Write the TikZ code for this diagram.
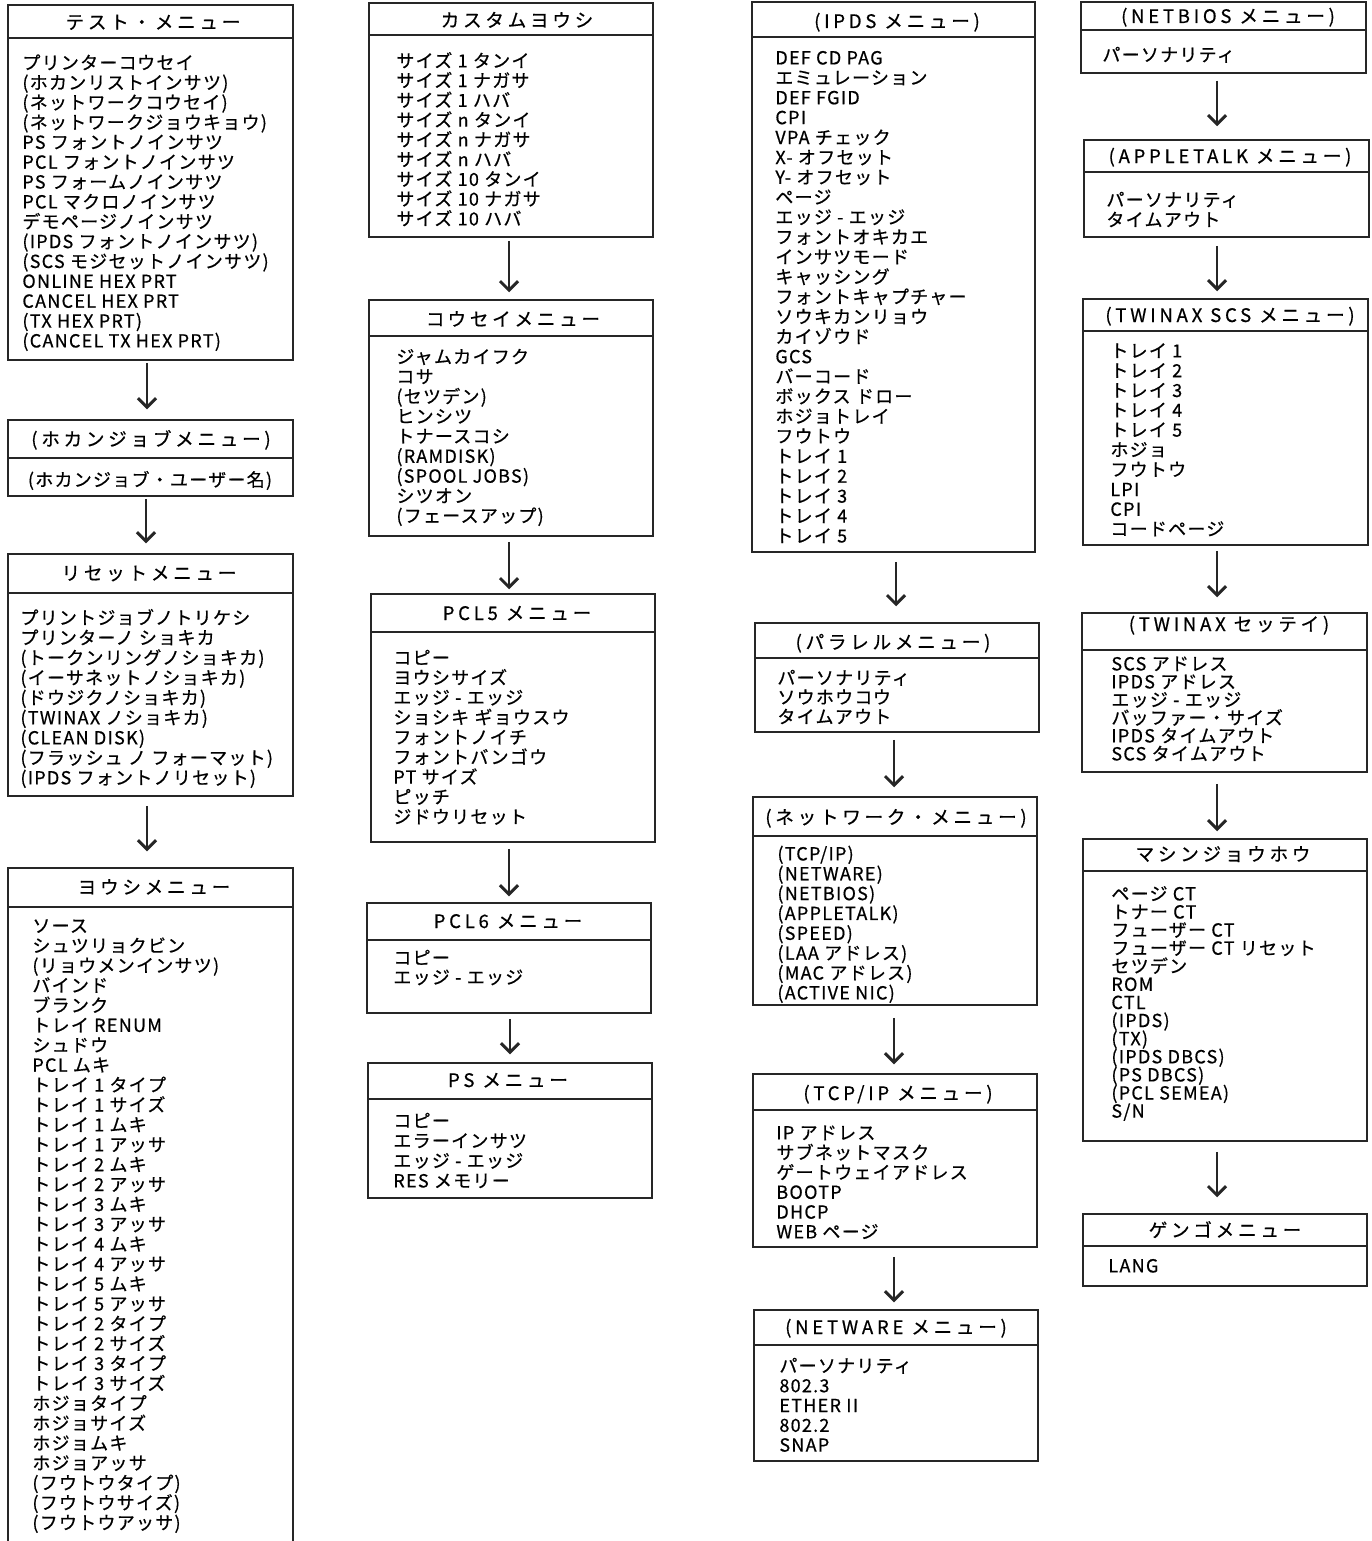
\documentclass[tikz,border=0pt]{standalone}
\usepackage{fontspec}
\newfontfamily\jpb{Noto Sans CJK JP}[LetterSpace=7,FakeBold=0.6]
\newfontfamily\jph{Noto Sans CJK JP}[LetterSpace=20,FakeBold=0.6]
\usetikzlibrary{arrows.meta,fit,calc}
\newcommand\fstrut{\vrule height 8.5pt width 0pt depth 0pt\relax}
\newcommand\bfnt[1]{\jpb\fontsize{9pt}{#1}\selectfont\lineskiplimit=-5pt\relax}
\newcommand\mnbox[9]{%
  \node[mbox, fit={(#2,#3)(#4,#5)}] (#1) {};
  \draw[divl] (#1.west |- 0,#6) -- (#1.east |- 0,#6);
  \node[mhead] (#1-h) at (#7,#8) {#9};
}
\newcommand\mnbody[5]{%
  \node[mbody, font=\bfnt{#4}] (#1-t) at (#2,#3) {\fstrut #5};
}
\newcommand\mnarrow[5]{%
  \draw[marr] ($(#1.south -| #3,0)+(0,#4)$) -- ($(#2.north -| #3,0)+(0,-#5)$);
}
\tikzset{
  mbox/.style={draw=black!85, line width=0.75pt, inner sep=0pt},
  divl/.style={draw=black!85, line width=0.75pt},
  mhead/.style={anchor=base, inner sep=0pt, font=\jph\fontsize{9.3pt}{10pt}\selectfont},
  mbody/.style={anchor=north west, inner sep=0pt, align=left},
  marr/.style={draw=black!85, line width=0.6pt, -{Straight Barb[length=4.5pt,width=9pt,line width=1.5pt]}}
}
\begin{document}
\begin{tikzpicture}[x=0.5pt,y=-0.5pt]
\useasboundingbox (0,0) rectangle (1371,1541);
% ---------------- column 1
\mnbox{test}{8}{5}{293}{360}{38}{153}{29}{テスト・メニュー}
\mnbody{test}{22}{52}{9.93pt}{プリンターコウセイ\\(ホカンリストインサツ)\\(ネットワークコウセイ)\\(ネットワークジョウキョウ)\\PS フォントノインサツ\\PCL フォントノインサツ\\PS フォームノインサツ\\PCL マクロノインサツ\\デモページノインサツ\\(IPDS フォントノインサツ)\\(SCS モジセットノインサツ)\\ONLINE HEX PRT\\CANCEL HEX PRT\\(TX HEX PRT)\\(CANCEL TX HEX PRT)}
\mnbox{hokan}{8}{420}{293}{496}{458}{151}{446}{(ホカンジョブメニュー)}
\node[mbody, anchor=north, font=\bfnt{10pt}] (hokan-t) at (150,469) {\fstrut(ホカンジョブ・ユーザー名)};
\mnbox{reset}{8}{554}{293}{796}{593}{149}{580}{リセットメニュー}
\mnbody{reset}{20}{607}{10pt}{プリントジョブノトリケシ\\プリンターノ ショキカ\\(トークンリングノショキカ)\\(イーサネットノショキカ)\\(ドウジクノショキカ)\\(TWINAX ノショキカ)\\(CLEAN DISK)\\(フラッシュ ノ フォーマット)\\(IPDS フォントノリセット)}
\mnbox{yoshi}{8}{868}{293}{1580}{907}{154}{894}{ヨウシメニュー}
\mnbody{yoshi}{32}{915}{9.95pt}{ソース\\シュツリョクビン\\(リョウメンインサツ)\\バインド\\ブランク\\トレイ RENUM\\シュドウ\\PCL ムキ\\トレイ 1 タイプ\\トレイ 1 サイズ\\トレイ 1 ムキ\\トレイ 1 アッサ\\トレイ 2 ムキ\\トレイ 2 アッサ\\トレイ 3 ムキ\\トレイ 3 アッサ\\トレイ 4 ムキ\\トレイ 4 アッサ\\トレイ 5 ムキ\\トレイ 5 アッサ\\トレイ 2 タイプ\\トレイ 2 サイズ\\トレイ 3 タイプ\\トレイ 3 サイズ\\ホジョタイプ\\ホジョサイズ\\ホジョムキ\\ホジョアッサ\\(フウトウタイプ)\\(フウトウサイズ)\\(フウトウアッサ)}
\mnarrow{test}{hokan}{147}{2}{10}
\mnarrow{hokan}{reset}{146}{2}{10}
\mnarrow{reset}{yoshi}{147}{9}{16}
% ---------------- column 2
\mnbox{custom}{369}{3}{653}{237}{35}{517}{27}{カスタムヨウシ}
\mnbody{custom}{396}{50}{9.875pt}{サイズ 1 タンイ\\サイズ 1 ナガサ\\サイズ 1 ハバ\\サイズ n タンイ\\サイズ n ナガサ\\サイズ n ハバ\\サイズ 10 タンイ\\サイズ 10 ナガサ\\サイズ 10 ハバ}
\mnbox{kousei}{369}{300}{653}{536}{336}{513}{326}{コウセイメニュー}
\mnbody{kousei}{396}{346}{9.94pt}{ジャムカイフク\\コサ\\(セツデン)\\ヒンシツ\\トナースコシ\\(RAMDISK)\\(SPOOL JOBS)\\シツオン\\(フェースアップ)}
\mnbox{pclfive}{371}{594}{655}{842}{632}{517}{620}{PCL5 メニュー}
\mnbody{pclfive}{393}{647}{9.94pt}{コピー\\ヨウシサイズ\\エッジ - エッジ\\ショシキ ギョウスウ\\フォントノイチ\\フォントバンゴウ\\PT サイズ\\ピッチ\\ジドウリセット}
\mnbox{pclsix}{367}{903}{651}{1013}{940}{508}{928}{PCL6 メニュー}
\mnbody{pclsix}{393}{947}{9.75pt}{コピー\\エッジ - エッジ}
\mnbox{psm}{368}{1063}{652}{1198}{1099}{508}{1087}{PS メニュー}
\mnbody{psm}{393}{1110}{10pt}{コピー\\エラーインサツ\\エッジ - エッジ\\RES メモリー}
\mnarrow{custom}{kousei}{509}{3}{7}
\mnarrow{kousei}{pclfive}{509}{5}{4}
\mnarrow{pclfive}{pclsix}{509}{6}{6}
\mnarrow{pclsix}{psm}{510}{5}{8}
% ---------------- column 3
\mnbox{ipds}{752}{2}{1035}{552}{37}{897}{28}{(IPDS メニュー)}
\mnbody{ipds}{775}{47}{9.96pt}{DEF CD PAG\\エミュレーション\\DEF FGID\\CPI\\VPA チェック\\X- オフセット\\Y- オフセット\\ページ\\エッジ - エッジ\\フォントオキカエ\\インサツモード\\キャッシング\\フォントキャプチャー\\ソウキカンリョウ\\カイゾウド\\GCS\\バーコード\\ボックス ドロー\\ホジョトレイ\\フウトウ\\トレイ 1\\トレイ 2\\トレイ 3\\トレイ 4\\トレイ 5}
\mnbox{para}{755}{623}{1039}{732}{658}{893}{649}{(パラレルメニュー)}
\mnbody{para}{777}{667}{9.75pt}{パーソナリティ\\ソウホウコウ\\タイムアウト}
\mnbox{net}{753}{797}{1037}{1005}{836}{896}{824}{(ネットワーク・メニュー)}
\mnbody{net}{777}{843}{9.93pt}{(TCP/IP)\\(NETWARE)\\(NETBIOS)\\(APPLETALK)\\(SPEED)\\(LAA アドレス)\\(MAC アドレス)\\(ACTIVE NIC)}
\mnbox{tcp}{753}{1074}{1037}{1247}{1110}{898}{1100}{(TCP/IP メニュー)}
\mnbody{tcp}{776}{1122}{9.9pt}{IP アドレス\\サブネットマスク\\ゲートウェイアドレス\\BOOTP\\DHCP\\WEB ページ}
\mnbox{netware}{754}{1310}{1038}{1461}{1345}{896}{1334}{(NETWARE メニュー)}
\mnbody{netware}{779}{1355}{9.9pt}{パーソナリティ\\802.3\\ETHER II\\802.2\\SNAP}
\mnarrow{ipds}{para}{896}{9}{16}
\mnarrow{para}{net}{894}{7}{9}
\mnarrow{net}{tcp}{894}{12}{9}
\mnarrow{tcp}{netware}{894}{9}{7}
% ---------------- column 4
\mnbox{netbios}{1081}{2}{1366}{73}{30}{1228}{23}{(NETBIOS メニュー)}
\mnbody{netbios}{1102}{44}{10pt}{パーソナリティ}
\mnbox{apple}{1084}{140}{1369}{237}{172}{1230}{163}{(APPLETALK メニュー)}
\mnbody{apple}{1106}{189}{10pt}{パーソナリティ\\タイムアウト}
\mnbox{twscs}{1083}{299}{1368}{545}{331}{1230}{322}{(TWINAX SCS メニュー)}
\mnbody{twscs}{1110}{340}{9.9pt}{トレイ 1\\トレイ 2\\トレイ 3\\トレイ 4\\トレイ 5\\ホジョ\\フウトウ\\LPI\\CPI\\コードページ}
\mnbox{twset}{1082}{613}{1367}{772}{650}{1229}{631}{(TWINAX セッテイ)}
\mnbody{twset}{1111}{653}{9pt}{SCS アドレス\\IPDS アドレス\\エッジ - エッジ\\バッファー・サイズ\\IPDS タイムアウト\\SCS タイムアウト}
\mnbox{machine}{1083}{839}{1367}{1141}{871}{1223}{861}{マシンジョウホウ}
\mnbody{machine}{1111}{883}{9.05pt}{ページ CT\\トナー CT\\フューザー CT\\フューザー CT リセット\\セツデン\\ROM\\CTL\\(IPDS)\\(TX)\\(IPDS DBCS)\\(PS DBCS)\\(PCL SEMEA)\\S/N}
\mnbox{gengo}{1083}{1214}{1367}{1286}{1246}{1225}{1237}{ゲンゴメニュー}
\mnbody{gengo}{1108}{1255}{10pt}{LANG}
\mnarrow{netbios}{apple}{1217}{7}{13}
\mnarrow{apple}{twscs}{1217}{8}{7}
\mnarrow{twscs}{twset}{1217}{5}{15}
\mnarrow{twset}{machine}{1217}{11}{7}
\mnarrow{machine}{gengo}{1217}{10}{16}
\end{tikzpicture}
\end{document}
